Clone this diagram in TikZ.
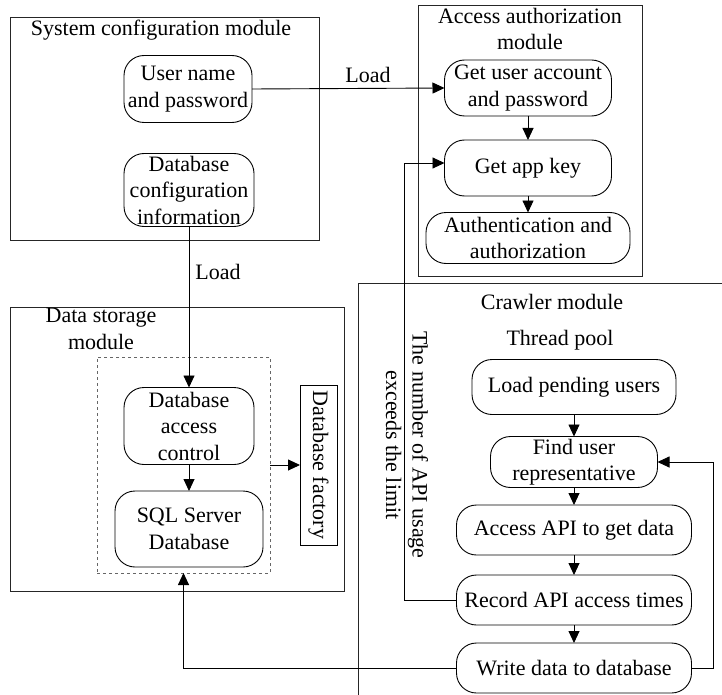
\documentclass[tikz,border=0pt]{standalone}
\usepackage{fontspec}
\setmainfont{Liberation Serif}
\usetikzlibrary{arrows.meta}
\begin{document}
\begin{tikzpicture}[x=1pt,y=-1pt,
  font=\fontsize{22}{26.5}\selectfont,
  line width=0.9pt,
  every node/.style={inner sep=0pt, outer sep=0pt},
  modbox/.style={draw=black!85},
  proc/.style={draw, rounded corners=20pt, align=center},
  flow/.style={-{Triangle[length=12pt,width=11pt]}},
  lbl/.style={align=center}]
\useasboundingbox (0,0) rectangle (722,695);

% System configuration module
\draw[modbox] (10,17) rectangle (319,240);
\node[lbl] (sysT) at (161,30) {System configuration module};
\node[proc, minimum width=128pt, minimum height=67pt] (user) at (188,89) {User name\\and password};
\node[proc, minimum width=130pt, minimum height=73pt] (dbconf) at (189,190) {Database\\configuration\\information};

% Access authorization module
\draw[modbox] (418,5) rectangle (642,276);
\node[lbl] (authT) at (530,29) {Access authorization\\module};
\node[proc, minimum width=167pt, minimum height=56pt] (getacc) at (528,88) {Get user account\\and password};
\node[proc, minimum width=167pt, minimum height=56pt] (appkey) at (528,168) {Get app key};
\node[proc, minimum width=204pt, minimum height=51pt] (authn) at (528,238) {Authentication and\\authorization};

% Data storage module
\draw[modbox] (10,307) rectangle (344,591);
\node[lbl] (dsT) at (101,329) {Data storage\\module};
\node[draw=black!60, dashed, line width=0.7pt, minimum width=173pt, minimum height=216pt] (dsb) at (183.5,465) {};
\node[proc, minimum width=130pt, minimum height=77pt] (dbacc) at (189,426) {Database\\access\\control};
\node[proc, minimum width=148pt, minimum height=76pt] (sql) at (189,529) {SQL Server\\Database};
\node[draw, minimum width=37pt, minimum height=160pt] (fact) at (318.5,465) {};
\node[rotate=-90] (factT) at (fact.center) {Database factory};

% Crawler module
\draw[modbox] (358,695) -- (358,283) -- (722,283);
\node[lbl] (crT) at (552,302) {Crawler module};
\node[lbl] (tpT) at (560,340) {Thread pool};
\node[proc, minimum width=204pt, minimum height=55pt] (load) at (574,387) {Load pending users};
\node[proc, minimum width=167pt, minimum height=51pt] (find) at (574,462) {Find user\\representative};
\node[proc, minimum width=235pt, minimum height=50pt] (api) at (574,530) {Access API to get data};
\node[proc, minimum width=235pt, minimum height=50pt] (record) at (574,600) {Record API access times};
\node[proc, minimum width=235pt, minimum height=50pt] (write) at (574,668) {Write data to database};
\node[lbl, rotate=-90] (limT) at (407,445) {The number of API usage\\exceeds the limit};

% Connectors
\draw[flow] (user.east) -- (getacc.west);
\node[lbl] (load1) at (368,75) {Load};
\draw[flow] (dbconf.south) -- (dbacc.north);
\node[lbl] (load2) at (218,272) {Load};
\draw[flow] (getacc.south) -- (appkey.north);
\draw[flow] (appkey.south) -- (authn.north);
\draw[flow] (dbacc.south) -- (sql.north);
\draw[flow] (dsb.east) -- (fact.west);
\draw[flow] (load.south) -- (find.north);
\draw[flow] (find.south) -- (api.north);
\draw[flow] (api.south) -- (record.north);
\draw[flow] (record.south) -- (write.north);
\draw[flow] (write.east) -- ++(22,0) |- (find.east);
\draw[flow] (record.west) -- ++(-52,0) |- ([yshift=5pt]appkey.west);
\draw[flow] (write.west) -| (dsb.south);
\end{tikzpicture}
\end{document}
